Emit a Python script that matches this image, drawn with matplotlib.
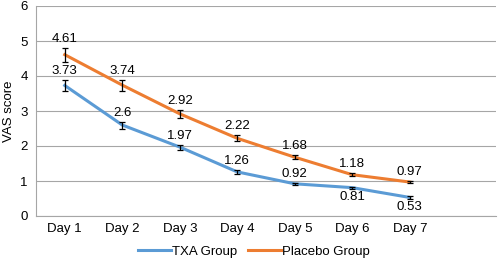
import numpy as np
import matplotlib.pyplot as plt

plt.rcParams['font.family'] = ['Liberation Sans', 'DejaVu Sans']

days = ['Day 1', 'Day 2', 'Day 3', 'Day 4', 'Day 5', 'Day 6', 'Day 7']
txa = [3.73, 2.6, 1.97, 1.26, 0.92, 0.81, 0.53]
txa_err = [0.17, 0.1, 0.07, 0.05, 0.03, 0.03, 0.03]
placebo = [4.61, 3.74, 2.92, 2.22, 1.68, 1.18, 0.97]
placebo_err = [0.2, 0.16, 0.12, 0.09, 0.06, 0.05, 0.03]

blue = '#5B9BD5'
orange = '#ED7D31'
fs = 9.5

fig = plt.figure(figsize=(4.98, 2.63), dpi=100)
ax = fig.add_axes([36/498, 47/263, 460/498, 210/263])

x = np.arange(len(days))
ax.plot(x, txa, color=blue, lw=2.2, label='TXA Group', zorder=3)
ax.plot(x, placebo, color=orange, lw=2.2, label='Placebo Group', zorder=3)
ax.errorbar(x, txa, yerr=txa_err, fmt='none', ecolor='black', elinewidth=0.9, capsize=2.5, capthick=0.9, zorder=4)
ax.errorbar(x, placebo, yerr=placebo_err, fmt='none', ecolor='black', elinewidth=0.9, capsize=2.5, capthick=0.9, zorder=4)

for i in range(len(days)):
    ax.annotate(str(placebo[i]), (x[i], placebo[i] + placebo_err[i]), xytext=(0, 2),
                textcoords='offset points', ha='center', va='bottom', fontsize=fs)
    if i < 5:
        ax.annotate(str(txa[i]), (x[i], txa[i] + txa_err[i]), xytext=(0, 2),
                    textcoords='offset points', ha='center', va='bottom', fontsize=fs)
    else:
        ax.annotate(str(txa[i]), (x[i], txa[i] - txa_err[i]), xytext=(0, -2),
                    textcoords='offset points', ha='center', va='top', fontsize=fs)

ax.set_xlim(-0.5, 7.5)
ax.set_ylim(0, 6)
ax.set_xticks(x)
ax.set_xticklabels(days, fontsize=fs)
ax.set_yticks(range(7))
ax.tick_params(axis='y', labelsize=fs, length=0, pad=6)
ax.tick_params(axis='x', length=0, pad=5)
ax.grid(axis='y', color='#A6A6A6', lw=0.8)
ax.set_axisbelow(True)
for s in ['top', 'right']:
    ax.spines[s].set_visible(False)
ax.spines['left'].set_color('#A6A6A6')
ax.spines['bottom'].set_color('#A6A6A6')
ax.set_ylabel('VAS score', fontsize=fs, labelpad=4)

fig.legend(loc='lower center', bbox_to_anchor=(0.51, -0.025), ncol=2, frameon=False,
           fontsize=fs, handlelength=2.5, handletextpad=0.1, columnspacing=0.8)

plt.savefig('out.png', dpi=100)
